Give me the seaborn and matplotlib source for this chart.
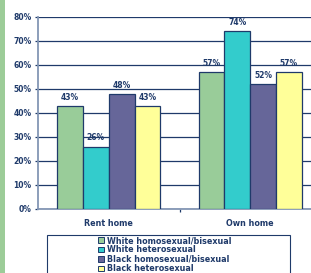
import matplotlib
matplotlib.use("Agg")
import matplotlib.pyplot as plt
import seaborn as sns
import pandas as pd
from matplotlib.patches import Rectangle
from matplotlib.ticker import FuncFormatter, FixedLocator

categories = ["Rent home", "Own home"]
groups = ["White homosexual/bisexual", "White heterosexual",
          "Black homosexual/bisexual", "Black heterosexual"]
rent_values = [43, 26, 48, 43]
own_values = [57, 74, 52, 57]
colors = ["#99cc99", "#33cccc", "#666699", "#ffff99"]
yticks = [0, 10, 20, 30, 40, 50, 60, 70, 80]

rows = []
for g, r, o in zip(groups, rent_values, own_values):
    rows.append({"category": categories[0], "group": g, "value": r})
    rows.append({"category": categories[1], "group": g, "value": o})
df = pd.DataFrame(rows)

navy = "#1f3a6a"
W, H = 311, 273
fig = plt.figure(figsize=(W / 100, H / 100), dpi=100)
fig.patch.set_facecolor("white")

# left green strip
fig.patches.append(Rectangle((0, 0), 5 / W, 1, transform=fig.transFigure,
                             facecolor="#9ccc98", edgecolor="none", zorder=0))

ax = fig.add_axes([38 / W, 64 / H, 283 / W, 192 / H])
sns.barplot(data=df, x="category", y="value", hue="group", order=categories,
            hue_order=groups, palette=colors, width=0.73, gap=0,
            edgecolor=navy, linewidth=0.9, saturation=1, ax=ax, legend=False,
            zorder=3)

ax.set_xlim(-0.5, 1.5)
ax.set_ylim(0, 80)
ax.yaxis.set_major_locator(FixedLocator(yticks))
ax.yaxis.set_major_formatter(FuncFormatter(lambda v, p: f"{v:.0f}%"))
ax.grid(axis="y", color=navy, linewidth=0.9, zorder=0)
ax.set_axisbelow(True)
ax.set_xlabel("")
ax.set_ylabel("")

for s in ["top", "right"]:
    ax.spines[s].set_visible(False)
for s in ["left", "bottom"]:
    ax.spines[s].set_color("#8396b4")
    ax.spines[s].set_linewidth(1.3)

ax.tick_params(axis="y", direction="out", length=2.5, width=0.9, color=navy,
               labelsize=5.5, labelcolor=navy, pad=2)
for t in ax.get_yticklabels():
    t.set_fontweight("bold")
ax.tick_params(axis="x", length=0, labelsize=5.8, labelcolor=navy, pad=7)
for t in ax.get_xticklabels():
    t.set_fontweight("bold")
ax.xaxis.set_minor_locator(FixedLocator([0.5]))
ax.tick_params(axis="x", which="minor", direction="out", length=2.5,
               width=0.9, color=navy)

for cont in ax.containers:
    ax.bar_label(cont, labels=[f"{v:.0f}%" for v in cont.datavalues],
                 padding=3, fontsize=5.5, color=navy, fontweight="bold")

# legend box
fig.patches.append(Rectangle((47 / W, -0.05), (290 - 47) / W, 0.05 + (H - 235) / H,
                             transform=fig.transFigure, facecolor="white",
                             edgecolor=navy, linewidth=0.8, zorder=5))
handles = [Rectangle((0, 0), 1, 1, facecolor=c, edgecolor=navy, linewidth=0.7)
           for c in colors]
leg = fig.legend(handles, groups, loc="upper left",
                 bbox_to_anchor=(98 / W, (H - 236) / H), frameon=False,
                 fontsize=5.8, handlelength=0.7, handleheight=0.7,
                 handletextpad=0.4, labelspacing=0.05, borderpad=0,
                 borderaxespad=0)
leg.set_zorder(6)
for t in leg.get_texts():
    t.set_color(navy)
    t.set_fontweight("bold")

fig.savefig("out.png", dpi=100)
